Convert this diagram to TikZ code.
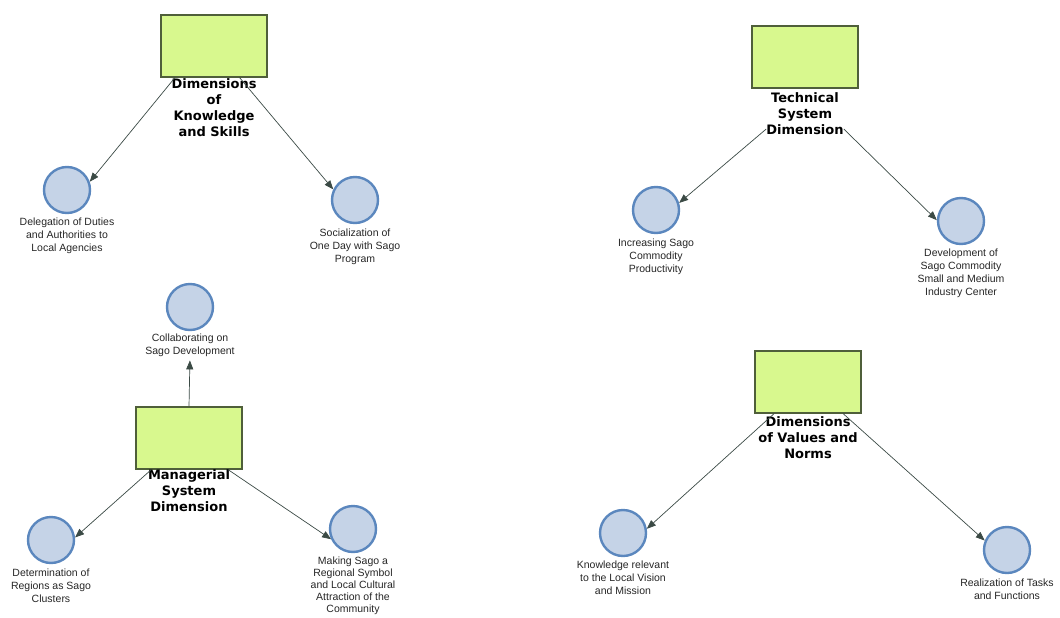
\documentclass[tikz,border=0pt]{standalone}
\usepackage{fontspec}
\setmainfont{Liberation Sans}
\newfontfamily\headfont{DejaVu Sans}
\usepackage{xcolor}
\usepackage{tikz}
\usetikzlibrary{positioning}
\usetikzlibrary{arrows.meta}

\definecolor{dimfill}{HTML}{D8F88E}
\definecolor{dimdraw}{HTML}{4F5F3A}
\definecolor{actfill}{HTML}{C5D3E7}
\definecolor{actdraw}{HTML}{5B87BE}
\definecolor{linkcol}{HTML}{3B4A45}

\tikzset{
  dimbox/.style={draw=dimdraw, fill=dimfill, line width=1.2pt, minimum width=106pt, minimum height=62pt},
  dimlabel/.style={font=\headfont\bfseries\fontsize{13}{16}\selectfont, align=center, inner sep=0pt},
  act/.style={circle, draw=actdraw, fill=actfill, line width=2.4pt, minimum size=46pt},
  actlabel/.style={font=\fontsize{10.5}{13}\selectfont, align=center, inner sep=0pt, text=black!85},
  link/.style={draw=linkcol, line width=0.7pt, -{Triangle[length=9pt,width=7pt]}}
}

\begin{document}
\begin{tikzpicture}[x=1pt, y=-1pt]
    \useasboundingbox (0,0) rectangle (1060,618);

    % Dimensions
    \node[dimbox] (R1) at (214,46) {};
    \node[dimlabel, below=1pt of R1] (R1l) {Dimensions\\of\\Knowledge\\and Skills};
    \node[dimbox] (R2) at (805,57) {};
    \node[dimlabel, below=4pt of R2] (R2l) {Technical\\System\\Dimension};
    \node[dimbox] (R3) at (189,438) {};
    \node[dimlabel, below=0pt of R3] (R3l) {Managerial\\System\\Dimension};
    \node[dimbox] (R4) at (808,382) {};
    \node[dimlabel, below=3pt of R4] (R4l) {Dimensions\\of Values and\\Norms};

    % Activities
    \node[act] (C1) at (67,190) {};
    \node[actlabel, below=3pt of C1] (C1l) {Delegation of Duties\\and Authorities to\\Local Agencies};
    \node[act] (C2) at (355,200) {};
    \node[actlabel, below=4pt of C2] (C2l) {Socialization of\\One Day with Sago\\Program};
    \node[act] (C3) at (656,210) {};
    \node[actlabel, below=4pt of C3] (C3l) {Increasing Sago\\Commodity\\Productivity};
    \node[act] (C4) at (961,221) {};
    \node[actlabel, below=3pt of C4] (C4l) {Development of\\Sago Commodity\\Small and Medium\\Industry Center};
    \node[act] (C5) at (190,307) {};
    \node[actlabel, below=2pt of C5] (C5l) {Collaborating on\\Sago Development};
    \node[act] (C6) at (51,540) {};
    \node[actlabel, below=4pt of C6] (C6l) {Determination of\\Regions as Sago\\Clusters};
    \node[act] (C7) at (353,529) {};
    \node[actlabel, font=\fontsize{10.5}{12}\selectfont, below=3pt of C7] (C7l) {Making Sago a\\Regional Symbol\\and Local Cultural\\Attraction of the\\Community};
    \node[act] (C8) at (623,533) {};
    \node[actlabel, below=3pt of C8] (C8l) {Knowledge relevant\\to the Local Vision\\and Mission};
    \node[act] (C9) at (1007,550) {};
    \node[actlabel, below=4pt of C9] (C9l) {Realization of Tasks\\and Functions};

    % Links
    \draw[link] (R1.219) -- (C1.20);
    \draw[link] (R1.309) -- (C2.154);
    \draw[link] ([yshift=6pt]R2l.south west) -- (C3.17);
    \draw[link] ([yshift=6pt]R2l.south east) -- (C4.178);
    \draw[link, shorten >=4pt] (R3.north) -- (C5l.south);
    \draw[link] (R3.220) -- (C6.6);
    \draw[link] (R3.321) -- (C7.205);
    \draw[link] (R4.223) -- (C8.10);
    \draw[link] (R4.318) -- (C9.157);
\end{tikzpicture}
\end{document}
